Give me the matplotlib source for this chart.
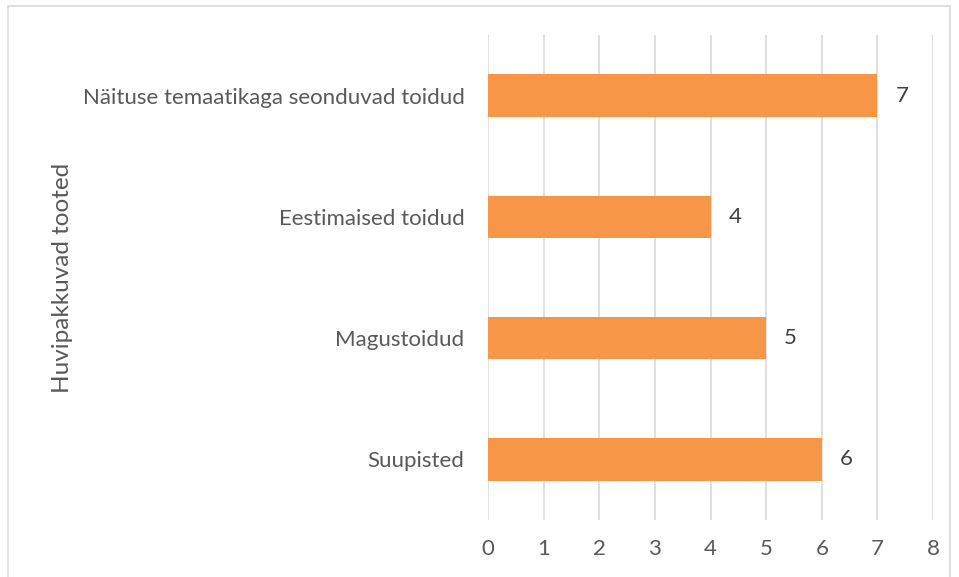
import matplotlib.pyplot as plt
from matplotlib.patches import Rectangle

categories = ["Suupisted", "Magustoidud", "Eestimaised toidud",
              "Näituse temaatikaga seonduvad toidud"]
values = [6, 5, 4, 7]
x_ticks = [0, 1, 2, 3, 4, 5, 6, 7, 8]
y_label = "Huvipakkuvad tooted"

BAR = "#f79646"
GRID = "#d9d9d9"
TEXT = "#595959"

plt.rcParams["font.family"] = ["Lato", "DejaVu Sans"]

fig = plt.figure(figsize=(9.59, 5.77), dpi=100)
ax = fig.add_axes([0.5089, 0.0988, 0.4640, 0.8405])

y = range(len(categories))
ax.barh(y, values, height=0.35, color=BAR, zorder=3)
for yi, v in zip(y, values):
    ax.annotate(str(v), (v, yi), xytext=(13, 0), textcoords="offset points",
                va="center", ha="left", fontsize=16, color="#404040")

ax.set_xlim(0, 8)
ax.set_ylim(-0.5, 3.5)
ax.set_xticks(x_ticks)
ax.set_yticks(list(y))
ax.set_yticklabels(categories)
ax.tick_params(axis="both", length=0, labelsize=16, labelcolor=TEXT)
ax.tick_params(axis="y", pad=17)
ax.tick_params(axis="x", pad=14)
ax.xaxis.grid(True, color=GRID, lw=1.2, zorder=0)
for s in ax.spines.values():
    s.set_visible(False)

fig.text(0.065, 0.518, y_label, rotation=90, ha="center", va="center",
         fontsize=17.5, color=TEXT)

fig.patches.append(Rectangle((8 / 959, -0.05), 942 / 959, 1 - 6 / 577 + 0.05,
                             transform=fig.transFigure, fill=False,
                             edgecolor=GRID, lw=1.2))

fig.savefig("out.png", dpi=100)
